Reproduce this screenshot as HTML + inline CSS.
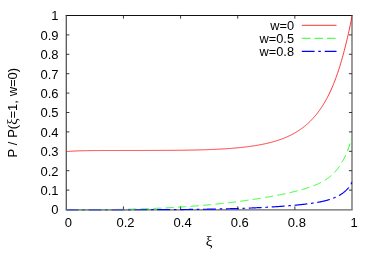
<!DOCTYPE html>
<html><head><meta charset="utf-8"><style>
html,body{margin:0;padding:0;background:#fff;}
svg{display:block;will-change:transform;opacity:0.999}
text{font-family:"Liberation Sans",sans-serif;font-size:13.5px;fill:#000}
</style></head><body>
<svg width="374" height="262" viewBox="0 0 374 262">
<defs><linearGradient id="fd" gradientUnits="userSpaceOnUse" x1="66" y1="0" x2="150" y2="0"><stop offset="0" stop-color="#8a8a8a" stop-opacity="0.55"/><stop offset="0.65" stop-color="#8a8a8a" stop-opacity="0.55"/><stop offset="1" stop-color="#8a8a8a" stop-opacity="0"/></linearGradient><clipPath id="c"><rect x="65.8" y="15.0" width="286.7" height="195.8"/></clipPath></defs>
<rect width="374" height="262" fill="#fff"/>
<g fill="none">
<path d="M65.7,15.5H352.6" stroke="#111" stroke-width="1"/>
<path d="M65.7,209.8H352.6" stroke="#666" stroke-width="1.3"/>
<path d="M66.3,15.5V209.8" stroke="#555" stroke-width="1.3"/>
<path d="M352.0,15.5V209.8" stroke="#666" stroke-width="1.3"/>
<g stroke="#222" stroke-width="0.9"><path d="M66.3,190.10h3.1"/><path d="M352.0,190.10h-3.1"/><path d="M66.3,170.70h3.1"/><path d="M352.0,170.70h-3.1"/><path d="M352.0,151.30h-3.1"/><path d="M66.3,131.90h3.1"/><path d="M352.0,131.90h-3.1"/><path d="M66.3,112.50h3.1"/><path d="M352.0,112.50h-3.1"/><path d="M66.3,93.10h3.1"/><path d="M352.0,93.10h-3.1"/><path d="M66.3,73.70h3.1"/><path d="M352.0,73.70h-3.1"/><path d="M66.3,54.30h3.1"/><path d="M352.0,54.30h-3.1"/><path d="M66.3,34.90h3.1"/><path d="M352.0,34.90h-3.1"/><path d="M123.44,209.8v-3.4M123.44,15.5v3.1"/><path d="M180.58,209.8v-3.4M180.58,15.5v3.1"/><path d="M237.72,209.8v-3.4M237.72,15.5v3.1"/><path d="M294.86,209.8v-3.4M294.86,15.5v3.1"/></g>
</g>
<text transform="translate(58.60,214.40) scale(0.9630,1)" text-anchor="end">0</text><text transform="translate(58.60,195.00) scale(0.9630,1)" text-anchor="end">0.1</text><text transform="translate(58.60,175.60) scale(0.9630,1)" text-anchor="end">0.2</text><text transform="translate(58.60,156.20) scale(0.9630,1)" text-anchor="end">0.3</text><text transform="translate(58.60,136.80) scale(0.9630,1)" text-anchor="end">0.4</text><text transform="translate(58.60,117.40) scale(0.9630,1)" text-anchor="end">0.5</text><text transform="translate(58.60,98.00) scale(0.9630,1)" text-anchor="end">0.6</text><text transform="translate(58.60,78.60) scale(0.9630,1)" text-anchor="end">0.7</text><text transform="translate(58.60,59.20) scale(0.9630,1)" text-anchor="end">0.8</text><text transform="translate(58.60,39.80) scale(0.9630,1)" text-anchor="end">0.9</text><text transform="translate(58.60,20.40) scale(0.9630,1)" text-anchor="end">1</text>
<text transform="translate(68.30,227.40) scale(0.9630,1)" text-anchor="middle">0</text><text transform="translate(125.44,227.40) scale(0.9630,1)" text-anchor="middle">0.2</text><text transform="translate(182.58,227.40) scale(0.9630,1)" text-anchor="middle">0.4</text><text transform="translate(239.72,227.40) scale(0.9630,1)" text-anchor="middle">0.6</text><text transform="translate(296.86,227.40) scale(0.9630,1)" text-anchor="middle">0.8</text><text transform="translate(354.00,227.40) scale(0.9630,1)" text-anchor="middle">1</text>
<text x="209" y="245.7" text-anchor="middle" style="font-family:'Liberation Serif',serif;font-size:15px">ξ</text>
<text transform="translate(17.3,112.6) rotate(-90)" text-anchor="middle" word-spacing="0.15" style="font-size:13px">P / P(<tspan style="font-family:'Liberation Serif',serif;font-size:14px">ξ</tspan>=1, w=0)</text>
<text transform="translate(294.00,29.50) scale(0.9485,1)" text-anchor="end">w=0</text>
<text transform="translate(294.00,42.50) scale(0.9485,1)" text-anchor="end">w=0.5</text>
<text transform="translate(294.00,55.50) scale(0.9485,1)" text-anchor="end">w=0.8</text>
<g fill="none">
<path d="M301.8,25.3H336.5" stroke="#ff0000" stroke-width="0.8"/>
<path d="M301.8,38.3H336.5" stroke="#00ff00" stroke-width="0.85" stroke-dasharray="8.6 4"/>
<path d="M301.8,51.3H336.5" stroke="#0000ff" stroke-width="1.2" stroke-dasharray="12.8 3.7 2.5 3.9"/>
<g clip-path="url(#c)">
<path d="M66.30,151.61 L66.78,151.56 L67.25,151.52 L67.73,151.47 L68.20,151.43 L68.68,151.40 L69.16,151.36 L69.63,151.32 L70.11,151.29 L70.59,151.25 L71.06,151.22 L71.54,151.19 L72.01,151.16 L72.49,151.14 L72.97,151.11 L73.44,151.08 L73.92,151.06 L74.39,151.04 L74.87,151.01 L75.35,150.99 L75.82,150.97 L76.30,150.95 L76.78,150.93 L77.25,150.91 L77.73,150.89 L78.20,150.88 L78.68,150.86 L79.16,150.85 L79.63,150.83 L80.11,150.82 L80.58,150.80 L81.06,150.79 L81.54,150.78 L82.01,150.77 L82.49,150.75 L82.97,150.74 L83.44,150.73 L83.92,150.72 L84.39,150.71 L84.87,150.70 L85.35,150.69 L85.82,150.68 L86.30,150.68 L86.78,150.67 L87.25,150.66 L87.73,150.65 L88.20,150.65 L88.68,150.64 L89.16,150.63 L89.63,150.63 L90.11,150.62 L90.58,150.61 L91.06,150.61 L91.54,150.60 L92.01,150.60 L92.49,150.59 L92.97,150.59 L93.44,150.58 L93.92,150.58 L94.39,150.58 L94.87,150.57 L95.35,150.57 L95.82,150.57 L96.30,150.56 L96.77,150.56 L97.25,150.56 L97.73,150.55 L98.20,150.55 L98.68,150.55 L99.16,150.54 L99.63,150.54 L100.11,150.54 L100.58,150.54 L101.06,150.53 L101.54,150.53 L102.01,150.53 L102.49,150.53 L102.96,150.53 L103.44,150.52 L103.92,150.52 L104.39,150.52 L104.87,150.52 L105.35,150.52 L105.82,150.52 L106.30,150.51 L106.77,150.51 L107.25,150.51 L107.73,150.51 L108.20,150.51 L108.68,150.51 L109.16,150.51 L109.63,150.50 L110.11,150.50 L110.58,150.50 L111.06,150.50 L111.54,150.50 L112.01,150.50 L112.49,150.50 L112.96,150.50 L113.44,150.50 L113.92,150.50 L114.39,150.50 L114.87,150.49 L115.35,150.49 L115.82,150.49 L116.30,150.49 L116.77,150.49 L117.25,150.49 L117.73,150.49 L118.20,150.49 L118.68,150.49 L119.15,150.49 L119.63,150.49 L120.11,150.49 L120.58,150.49 L121.06,150.49 L121.54,150.49 L122.01,150.49 L122.49,150.48 L122.96,150.48 L123.44,150.48 L123.92,150.48 L124.39,150.48 L124.87,150.48 L125.34,150.48 L125.82,150.48 L126.30,150.48 L126.77,150.48 L127.25,150.48 L127.73,150.48 L128.20,150.48 L128.68,150.48 L129.15,150.48 L129.63,150.48 L130.11,150.48 L130.58,150.48 L131.06,150.48 L131.53,150.48 L132.01,150.48 L132.49,150.47 L132.96,150.47 L133.44,150.47 L133.92,150.47 L134.39,150.47 L134.87,150.47 L135.34,150.47 L135.82,150.47 L136.30,150.47 L136.77,150.47 L137.25,150.47 L137.72,150.47 L138.20,150.47 L138.68,150.47 L139.15,150.47 L139.63,150.47 L140.11,150.46 L140.58,150.46 L141.06,150.46 L141.53,150.46 L142.01,150.46 L142.49,150.46 L142.96,150.46 L143.44,150.46 L143.92,150.46 L144.39,150.46 L144.87,150.46 L145.34,150.46 L145.82,150.45 L146.30,150.45 L146.77,150.45 L147.25,150.45 L147.72,150.45 L148.20,150.45 L148.68,150.45 L149.15,150.45 L149.63,150.45 L150.11,150.44 L150.58,150.44 L151.06,150.44 L151.53,150.44 L152.01,150.44 L152.49,150.44 L152.96,150.44 L153.44,150.43 L153.91,150.43 L154.39,150.43 L154.87,150.43 L155.34,150.43 L155.82,150.43 L156.30,150.42 L156.77,150.42 L157.25,150.42 L157.72,150.42 L158.20,150.42 L158.68,150.41 L159.15,150.41 L159.63,150.41 L160.10,150.41 L160.58,150.41 L161.06,150.40 L161.53,150.40 L162.01,150.40 L162.49,150.40 L162.96,150.39 L163.44,150.39 L163.91,150.39 L164.39,150.39 L164.87,150.38 L165.34,150.38 L165.82,150.38 L166.30,150.37 L166.77,150.37 L167.25,150.37 L167.72,150.36 L168.20,150.36 L168.68,150.36 L169.15,150.35 L169.63,150.35 L170.10,150.35 L170.58,150.34 L171.06,150.34 L171.53,150.34 L172.01,150.33 L172.49,150.33 L172.96,150.32 L173.44,150.32 L173.91,150.32 L174.39,150.31 L174.87,150.31 L175.34,150.30 L175.82,150.30 L176.29,150.29 L176.77,150.29 L177.25,150.28 L177.72,150.28 L178.20,150.27 L178.68,150.27 L179.15,150.26 L179.63,150.26 L180.10,150.25 L180.58,150.24 L181.06,150.24 L181.53,150.23 L182.01,150.23 L182.48,150.22 L182.96,150.21 L183.44,150.21 L183.91,150.20 L184.39,150.19 L184.87,150.19 L185.34,150.18 L185.82,150.17 L186.29,150.17 L186.77,150.16 L187.25,150.15 L187.72,150.14 L188.20,150.13 L188.67,150.13 L189.15,150.12 L189.63,150.11 L190.10,150.10 L190.58,150.09 L191.06,150.08 L191.53,150.07 L192.01,150.06 L192.48,150.06 L192.96,150.05 L193.44,150.04 L193.91,150.03 L194.39,150.02 L194.87,150.00 L195.34,149.99 L195.82,149.98 L196.29,149.97 L196.77,149.96 L197.25,149.95 L197.72,149.94 L198.20,149.93 L198.67,149.91 L199.15,149.90 L199.63,149.89 L200.10,149.88 L200.58,149.86 L201.06,149.85 L201.53,149.84 L202.01,149.82 L202.48,149.81 L202.96,149.80 L203.44,149.78 L203.91,149.77 L204.39,149.75 L204.86,149.74 L205.34,149.72 L205.82,149.70 L206.29,149.69 L206.77,149.67 L207.25,149.66 L207.72,149.64 L208.20,149.62 L208.67,149.60 L209.15,149.59 L209.63,149.57 L210.10,149.55 L210.58,149.53 L211.06,149.51 L211.53,149.49 L212.01,149.47 L212.49,149.45 L212.97,149.43 L213.44,149.41 L213.92,149.39 L214.40,149.37 L214.88,149.35 L215.36,149.33 L215.83,149.30 L216.31,149.28 L216.79,149.26 L217.27,149.24 L217.75,149.21 L218.23,149.19 L218.71,149.16 L219.19,149.14 L219.67,149.11 L220.15,149.09 L220.63,149.06 L221.11,149.03 L221.59,149.01 L222.07,148.98 L222.55,148.95 L223.03,148.92 L223.51,148.89 L223.99,148.86 L224.47,148.83 L224.95,148.80 L225.43,148.77 L225.91,148.74 L226.40,148.71 L226.88,148.68 L227.36,148.65 L227.84,148.61 L228.32,148.58 L228.80,148.54 L229.29,148.51 L229.77,148.47 L230.25,148.44 L230.73,148.40 L231.22,148.36 L231.70,148.33 L232.18,148.29 L232.66,148.25 L233.15,148.21 L233.63,148.17 L234.11,148.13 L234.60,148.09 L235.08,148.05 L235.56,148.00 L236.05,147.96 L236.53,147.92 L237.01,147.87 L237.50,147.83 L237.98,147.78 L238.46,147.74 L238.95,147.69 L239.43,147.64 L239.91,147.59 L240.40,147.54 L240.88,147.49 L241.37,147.44 L241.85,147.39 L242.33,147.34 L242.82,147.29 L243.30,147.23 L243.79,147.18 L244.27,147.12 L244.75,147.06 L245.24,147.01 L245.72,146.95 L246.21,146.89 L246.69,146.83 L247.18,146.77 L247.66,146.71 L248.14,146.65 L248.63,146.58 L249.11,146.52 L249.60,146.45 L250.08,146.39 L250.57,146.32 L251.05,146.25 L251.54,146.18 L252.02,146.11 L252.50,146.04 L252.99,145.97 L253.47,145.89 L253.96,145.82 L254.44,145.74 L254.93,145.67 L255.41,145.59 L255.90,145.51 L256.38,145.43 L256.87,145.35 L257.35,145.27 L257.83,145.18 L258.32,145.10 L258.80,145.01 L259.29,144.92 L259.77,144.84 L260.26,144.74 L260.74,144.65 L261.22,144.56 L261.71,144.47 L262.19,144.37 L262.68,144.27 L263.16,144.17 L263.64,144.07 L264.13,143.97 L264.61,143.87 L265.10,143.77 L265.58,143.66 L266.06,143.55 L266.55,143.44 L267.03,143.33 L267.51,143.22 L268.00,143.10 L268.48,142.99 L268.96,142.87 L269.45,142.75 L269.93,142.63 L270.41,142.51 L270.90,142.38 L271.38,142.25 L271.86,142.13 L272.35,141.99 L272.83,141.86 L273.31,141.73 L273.79,141.59 L274.28,141.45 L274.76,141.31 L275.24,141.17 L275.72,141.02 L276.21,140.87 L276.69,140.72 L277.17,140.57 L277.65,140.42 L278.13,140.26 L278.61,140.10 L279.10,139.94 L279.58,139.77 L280.06,139.61 L280.54,139.44 L281.02,139.27 L281.50,139.09 L281.98,138.91 L282.46,138.73 L282.94,138.55 L283.42,138.36 L283.90,138.18 L284.38,137.98 L284.86,137.79 L285.34,137.59 L285.82,137.39 L286.30,137.18 L286.78,136.98 L287.26,136.77 L287.74,136.55 L288.22,136.33 L288.70,136.11 L289.18,135.89 L289.65,135.66 L290.13,135.43 L290.61,135.19 L291.09,134.95 L291.57,134.71 L292.04,134.46 L292.52,134.21 L293.00,133.96 L293.48,133.70 L293.95,133.43 L294.43,133.17 L294.91,132.89 L295.38,132.62 L295.86,132.33 L296.34,132.05 L296.81,131.76 L297.29,131.46 L297.76,131.16 L298.24,130.86 L298.72,130.55 L299.19,130.23 L299.67,129.91 L300.15,129.58 L300.62,129.25 L301.10,128.91 L301.57,128.57 L302.05,128.22 L302.53,127.87 L303.00,127.50 L303.48,127.14 L303.95,126.76 L304.43,126.39 L304.91,126.00 L305.38,125.61 L305.86,125.21 L306.34,124.80 L306.81,124.39 L307.29,123.97 L307.76,123.54 L308.24,123.11 L308.72,122.66 L309.19,122.21 L309.67,121.76 L310.15,121.29 L310.62,120.82 L311.10,120.33 L311.57,119.84 L312.05,119.34 L312.53,118.84 L313.00,118.32 L313.48,117.79 L313.95,117.26 L314.43,116.71 L314.91,116.16 L315.38,115.60 L315.86,115.02 L316.34,114.44 L316.81,113.84 L317.29,113.24 L317.76,112.62 L318.24,112.00 L318.72,111.36 L319.19,110.71 L319.67,110.05 L320.14,109.38 L320.62,108.69 L321.10,107.99 L321.57,107.28 L322.05,106.56 L322.53,105.83 L323.00,105.08 L323.48,104.31 L323.95,103.54 L324.43,102.75 L324.91,101.94 L325.38,101.12 L325.85,100.29 L326.32,99.44 L326.80,98.57 L327.26,97.69 L327.73,96.80 L328.20,95.88 L328.67,94.95 L329.13,94.00 L329.60,93.04 L330.06,92.06 L330.52,91.06 L330.99,90.04 L331.45,89.00 L331.91,87.94 L332.37,86.87 L332.83,85.77 L333.29,84.65 L333.75,83.52 L334.20,82.36 L334.66,81.18 L335.12,79.98 L335.58,78.75 L336.03,77.51 L336.49,76.24 L336.95,74.94 L337.40,73.62 L337.86,72.28 L338.32,70.92 L338.77,69.52 L339.23,68.10 L339.68,66.66 L340.14,65.19 L340.60,63.69 L341.05,62.16 L341.51,60.60 L341.97,59.02 L342.43,57.40 L342.88,55.75 L343.34,54.08 L343.80,52.37 L344.26,50.63 L344.72,48.86 L345.18,47.05 L345.64,45.21 L346.11,43.34 L346.57,41.43 L347.03,39.48 L347.50,37.50 L347.96,35.48 L348.43,33.42 L348.90,31.32 L349.37,29.19 L349.83,27.01 L350.31,24.79 L350.78,22.54 L351.25,20.23 L351.72,17.89 L352.20,15.50" stroke="#ff0000" stroke-width="0.8"/>
<path d="M66.30,209.80 L66.78,209.80 L67.25,209.80 L67.73,209.80 L68.20,209.80 L68.68,209.80 L69.16,209.80 L69.63,209.80 L70.11,209.80 L70.59,209.80 L71.06,209.80 L71.54,209.80 L72.01,209.80 L72.49,209.80 L72.97,209.80 L73.44,209.80 L73.92,209.79 L74.39,209.79 L74.87,209.79 L75.35,209.79 L75.82,209.79 L76.30,209.79 L76.78,209.79 L77.25,209.79 L77.73,209.79 L78.20,209.79 L78.68,209.79 L79.16,209.78 L79.63,209.78 L80.11,209.78 L80.58,209.78 L81.06,209.78 L81.54,209.78 L82.01,209.78 L82.49,209.77 L82.97,209.77 L83.44,209.77 L83.92,209.77 L84.39,209.77 L84.87,209.77 L85.35,209.76 L85.82,209.76 L86.30,209.76 L86.78,209.76 L87.25,209.75 L87.73,209.75 L88.20,209.75 L88.68,209.75 L89.16,209.74 L89.63,209.74 L90.11,209.74 L90.58,209.74 L91.06,209.73 L91.54,209.73 L92.01,209.73 L92.49,209.73 L92.97,209.72 L93.44,209.72 L93.92,209.72 L94.39,209.71 L94.87,209.71 L95.35,209.70 L95.82,209.70 L96.30,209.70 L96.77,209.69 L97.25,209.69 L97.73,209.69 L98.20,209.68 L98.68,209.68 L99.16,209.67 L99.63,209.67 L100.11,209.66 L100.58,209.66 L101.06,209.66 L101.54,209.65 L102.01,209.65 L102.49,209.64 L102.96,209.64 L103.44,209.63 L103.92,209.63 L104.39,209.62 L104.87,209.62 L105.35,209.61 L105.82,209.60 L106.30,209.60 L106.77,209.59 L107.25,209.59 L107.73,209.58 L108.20,209.58 L108.68,209.57 L109.16,209.56 L109.63,209.56 L110.11,209.55 L110.58,209.54 L111.06,209.54 L111.54,209.53 L112.01,209.52 L112.49,209.52 L112.96,209.51 L113.44,209.50 L113.92,209.50 L114.39,209.49 L114.87,209.48 L115.35,209.47 L115.82,209.47 L116.30,209.46 L116.77,209.45 L117.25,209.44 L117.73,209.43 L118.20,209.42 L118.68,209.42 L119.15,209.41 L119.63,209.40 L120.11,209.39 L120.58,209.38 L121.06,209.37 L121.54,209.36 L122.01,209.35 L122.49,209.34 L122.96,209.34 L123.44,209.33 L123.92,209.32 L124.39,209.31 L124.87,209.30 L125.34,209.29 L125.82,209.28 L126.30,209.26 L126.77,209.25 L127.25,209.24 L127.73,209.23 L128.20,209.22 L128.68,209.21 L129.15,209.20 L129.63,209.19 L130.11,209.18 L130.58,209.16 L131.06,209.15 L131.53,209.14 L132.01,209.13 L132.49,209.12 L132.96,209.10 L133.44,209.09 L133.92,209.08 L134.39,209.07 L134.87,209.05 L135.34,209.04 L135.82,209.03 L136.30,209.01 L136.77,209.00 L137.25,208.99 L137.72,208.97 L138.20,208.96 L138.68,208.95 L139.15,208.93 L139.63,208.92 L140.11,208.90 L140.58,208.89 L141.06,208.87 L141.53,208.86 L142.01,208.84 L142.49,208.83 L142.96,208.81 L143.44,208.80 L143.92,208.78 L144.39,208.76 L144.87,208.75 L145.34,208.73 L145.82,208.72 L146.30,208.70 L146.77,208.68 L147.25,208.67 L147.72,208.65 L148.20,208.63 L148.68,208.61 L149.15,208.60 L149.63,208.58 L150.11,208.56 L150.58,208.54 L151.06,208.52 L151.53,208.51 L152.01,208.49 L152.49,208.47 L152.96,208.45 L153.44,208.43 L153.91,208.41 L154.39,208.39 L154.87,208.37 L155.34,208.35 L155.82,208.33 L156.30,208.31 L156.77,208.29 L157.25,208.27 L157.72,208.25 L158.20,208.23 L158.68,208.21 L159.15,208.19 L159.63,208.17 L160.10,208.14 L160.58,208.12 L161.06,208.10 L161.53,208.08 L162.01,208.06 L162.49,208.03 L162.96,208.01 L163.44,207.99 L163.91,207.97 L164.39,207.94 L164.87,207.92 L165.34,207.89 L165.82,207.87 L166.30,207.85 L166.77,207.82 L167.25,207.80 L167.72,207.77 L168.20,207.75 L168.68,207.72 L169.15,207.70 L169.63,207.67 L170.10,207.65 L170.58,207.62 L171.06,207.60 L171.53,207.57 L172.01,207.54 L172.49,207.52 L172.96,207.49 L173.44,207.46 L173.91,207.44 L174.39,207.41 L174.87,207.38 L175.34,207.35 L175.82,207.32 L176.29,207.30 L176.77,207.27 L177.25,207.24 L177.72,207.21 L178.20,207.18 L178.68,207.15 L179.15,207.12 L179.63,207.09 L180.10,207.06 L180.58,207.03 L181.06,207.00 L181.53,206.97 L182.01,206.94 L182.48,206.91 L182.96,206.88 L183.44,206.85 L183.91,206.81 L184.39,206.78 L184.87,206.75 L185.34,206.72 L185.82,206.68 L186.29,206.65 L186.77,206.62 L187.25,206.59 L187.72,206.55 L188.20,206.52 L188.67,206.48 L189.15,206.45 L189.63,206.42 L190.10,206.38 L190.58,206.35 L191.06,206.31 L191.53,206.28 L192.01,206.24 L192.48,206.20 L192.96,206.17 L193.44,206.13 L193.91,206.10 L194.39,206.06 L194.87,206.02 L195.34,205.98 L195.82,205.95 L196.29,205.91 L196.77,205.87 L197.25,205.83 L197.72,205.79 L198.20,205.76 L198.67,205.72 L199.15,205.68 L199.63,205.64 L200.10,205.60 L200.58,205.56 L201.06,205.52 L201.53,205.48 L202.01,205.44 L202.48,205.40 L202.96,205.35 L203.44,205.31 L203.91,205.27 L204.39,205.23 L204.86,205.19 L205.34,205.14 L205.82,205.10 L206.29,205.06 L206.77,205.02 L207.25,204.97 L207.72,204.93 L208.20,204.88 L208.67,204.84 L209.15,204.80 L209.63,204.75 L210.10,204.71 L210.58,204.66 L211.05,204.61 L211.53,204.57 L212.01,204.52 L212.48,204.48 L212.96,204.43 L213.44,204.38 L213.91,204.33 L214.39,204.29 L214.86,204.24 L215.34,204.19 L215.82,204.14 L216.29,204.09 L216.77,204.05 L217.24,204.00 L217.72,203.95 L218.20,203.90 L218.67,203.85 L219.15,203.80 L219.63,203.75 L220.10,203.70 L220.58,203.65 L221.05,203.59 L221.53,203.54 L222.01,203.49 L222.48,203.44 L222.96,203.39 L223.44,203.33 L223.91,203.28 L224.39,203.23 L224.86,203.17 L225.34,203.12 L225.82,203.06 L226.29,203.01 L226.77,202.96 L227.24,202.90 L227.72,202.84 L228.20,202.79 L228.67,202.73 L229.15,202.68 L229.63,202.62 L230.10,202.56 L230.58,202.51 L231.05,202.45 L231.53,202.39 L232.01,202.33 L232.48,202.27 L232.96,202.22 L233.43,202.16 L233.91,202.10 L234.39,202.04 L234.86,201.98 L235.34,201.92 L235.82,201.86 L236.29,201.80 L236.77,201.74 L237.24,201.67 L237.72,201.61 L238.20,201.55 L238.67,201.49 L239.15,201.43 L239.62,201.36 L240.10,201.30 L240.58,201.24 L241.05,201.17 L241.53,201.11 L242.01,201.04 L242.48,200.98 L242.96,200.91 L243.43,200.85 L243.91,200.78 L244.39,200.72 L244.86,200.65 L245.34,200.58 L245.81,200.52 L246.29,200.45 L246.77,200.38 L247.24,200.31 L247.72,200.24 L248.20,200.18 L248.67,200.11 L249.15,200.04 L249.62,199.97 L250.10,199.90 L250.58,199.83 L251.05,199.76 L251.53,199.68 L252.00,199.61 L252.48,199.54 L252.96,199.47 L253.43,199.40 L253.91,199.32 L254.39,199.25 L254.86,199.18 L255.34,199.10 L255.81,199.03 L256.29,198.95 L256.77,198.88 L257.24,198.80 L257.72,198.73 L258.20,198.65 L258.67,198.58 L259.15,198.50 L259.62,198.42 L260.10,198.34 L260.58,198.27 L261.05,198.19 L261.53,198.11 L262.00,198.03 L262.48,197.95 L262.96,197.87 L263.43,197.79 L263.91,197.71 L264.39,197.63 L264.86,197.55 L265.34,197.47 L265.81,197.38 L266.29,197.30 L266.77,197.22 L267.24,197.14 L267.72,197.05 L268.19,196.97 L268.67,196.88 L269.15,196.80 L269.62,196.71 L270.10,196.63 L270.58,196.54 L271.05,196.45 L271.53,196.37 L272.00,196.28 L272.48,196.19 L272.96,196.10 L273.43,196.02 L273.91,195.93 L274.38,195.84 L274.86,195.75 L275.34,195.66 L275.81,195.56 L276.29,195.47 L276.77,195.38 L277.24,195.29 L277.72,195.20 L278.19,195.10 L278.67,195.01 L279.15,194.91 L279.62,194.82 L280.10,194.72 L280.57,194.63 L281.05,194.53 L281.53,194.43 L282.00,194.34 L282.48,194.24 L282.96,194.14 L283.43,194.04 L283.91,193.94 L284.38,193.84 L284.86,193.74 L285.34,193.64 L285.81,193.53 L286.29,193.43 L286.77,193.33 L287.24,193.22 L287.72,193.12 L288.19,193.01 L288.67,192.91 L289.15,192.80 L289.62,192.69 L290.10,192.58 L290.57,192.47 L291.05,192.36 L291.53,192.25 L292.00,192.14 L292.48,192.03 L292.96,191.91 L293.43,191.80 L293.91,191.69 L294.38,191.57 L294.86,191.45 L295.34,191.34 L295.81,191.22 L296.29,191.10 L296.76,190.98 L297.24,190.85 L297.72,190.73 L298.19,190.61 L298.67,190.48 L299.15,190.36 L299.62,190.23 L300.10,190.10 L300.57,189.97 L301.05,189.84 L301.53,189.71 L302.00,189.57 L302.48,189.44 L302.95,189.30 L303.43,189.17 L303.91,189.03 L304.38,188.88 L304.86,188.74 L305.34,188.60 L305.81,188.45 L306.29,188.30 L306.76,188.15 L307.24,188.00 L307.72,187.85 L308.19,187.69 L308.67,187.54 L309.15,187.38 L309.62,187.21 L310.10,187.05 L310.57,186.88 L311.05,186.71 L311.53,186.54 L312.00,186.37 L312.48,186.19 L312.95,186.01 L313.43,185.83 L313.91,185.64 L314.38,185.45 L314.86,185.26 L315.34,185.07 L315.81,184.87 L316.29,184.67 L316.76,184.46 L317.24,184.25 L317.72,184.04 L318.19,183.82 L318.67,183.60 L319.14,183.37 L319.62,183.14 L320.10,182.91 L320.57,182.67 L321.05,182.42 L321.53,182.17 L322.00,181.91 L322.48,181.65 L322.95,181.38 L323.43,181.11 L323.91,180.83 L324.38,180.54 L324.86,180.25 L325.33,179.95 L325.81,179.65 L326.29,179.33 L326.76,179.01 L327.24,178.68 L327.72,178.34 L328.19,177.99 L328.67,177.64 L329.14,177.27 L329.62,176.90 L330.10,176.51 L330.57,176.12 L331.05,175.71 L331.52,175.29 L332.00,174.86 L332.48,174.42 L332.95,173.97 L333.43,173.50 L333.91,173.02 L334.38,172.53 L334.86,172.02 L335.33,171.50 L335.81,170.96 L336.29,170.41 L336.76,169.84 L337.24,169.25 L337.72,168.65 L338.19,168.02 L338.67,167.38 L339.14,166.72 L339.62,166.03 L340.10,165.33 L340.57,164.60 L341.05,163.85 L341.52,163.07 L342.00,162.27 L342.48,161.44 L342.95,160.59 L343.43,159.71 L343.91,158.80 L344.38,157.86 L344.86,156.88 L345.33,155.87 L345.81,154.83 L346.29,153.75 L346.76,152.63 L347.24,151.47 L347.71,150.27 L348.19,149.03 L348.67,147.73 L349.14,146.38 L349.62,144.98 L350.10,143.51 L350.57,141.98 L351.05,140.38 L351.52,138.70 L352.00,136.94" stroke="#00ff00" stroke-width="0.85" stroke-dasharray="8.2 4.3" stroke-dashoffset="0.66"/>
<path d="M66.30,209.80 L66.78,209.80 L67.25,209.80 L67.73,209.80 L68.20,209.80 L68.68,209.80 L69.16,209.80 L69.63,209.80 L70.11,209.80 L70.59,209.80 L71.06,209.80 L71.54,209.80 L72.01,209.80 L72.49,209.80 L72.97,209.80 L73.44,209.80 L73.92,209.80 L74.39,209.80 L74.87,209.80 L75.35,209.80 L75.82,209.80 L76.30,209.80 L76.78,209.80 L77.25,209.80 L77.73,209.80 L78.20,209.80 L78.68,209.80 L79.16,209.80 L79.63,209.80 L80.11,209.80 L80.58,209.80 L81.06,209.80 L81.54,209.80 L82.01,209.80 L82.49,209.80 L82.97,209.80 L83.44,209.80 L83.92,209.80 L84.39,209.80 L84.87,209.80 L85.35,209.80 L85.82,209.80 L86.30,209.80 L86.78,209.80 L87.25,209.80 L87.73,209.80 L88.20,209.80 L88.68,209.80 L89.16,209.80 L89.63,209.80 L90.11,209.80 L90.58,209.80 L91.06,209.80 L91.54,209.80 L92.01,209.80 L92.49,209.80 L92.97,209.80 L93.44,209.80 L93.92,209.80 L94.39,209.80 L94.87,209.80 L95.35,209.80 L95.82,209.80 L96.30,209.80 L96.77,209.80 L97.25,209.80 L97.73,209.80 L98.20,209.80 L98.68,209.80 L99.16,209.80 L99.63,209.80 L100.11,209.80 L100.58,209.80 L101.06,209.80 L101.54,209.80 L102.01,209.80 L102.49,209.80 L102.96,209.80 L103.44,209.80 L103.92,209.80 L104.39,209.80 L104.87,209.80 L105.35,209.80 L105.82,209.80 L106.30,209.80 L106.77,209.80 L107.25,209.80 L107.73,209.80 L108.20,209.80 L108.68,209.80 L109.16,209.80 L109.63,209.80 L110.11,209.79 L110.58,209.79 L111.06,209.79 L111.54,209.79 L112.01,209.79 L112.49,209.79 L112.96,209.79 L113.44,209.79 L113.92,209.79 L114.39,209.79 L114.87,209.79 L115.35,209.79 L115.82,209.79 L116.30,209.79 L116.77,209.79 L117.25,209.79 L117.73,209.79 L118.20,209.79 L118.68,209.79 L119.15,209.79 L119.63,209.79 L120.11,209.79 L120.58,209.79 L121.06,209.79 L121.54,209.79 L122.01,209.79 L122.49,209.79 L122.96,209.79 L123.44,209.79 L123.92,209.78 L124.39,209.78 L124.87,209.78 L125.34,209.78 L125.82,209.78 L126.30,209.78 L126.77,209.78 L127.25,209.78 L127.73,209.78 L128.20,209.78 L128.68,209.78 L129.15,209.78 L129.63,209.78 L130.11,209.78 L130.58,209.78 L131.06,209.78 L131.53,209.78 L132.01,209.77 L132.49,209.77 L132.96,209.77 L133.44,209.77 L133.92,209.77 L134.39,209.77 L134.87,209.77 L135.34,209.77 L135.82,209.77 L136.30,209.77 L136.77,209.77 L137.25,209.76 L137.72,209.76 L138.20,209.76 L138.68,209.76 L139.15,209.76 L139.63,209.76 L140.11,209.76 L140.58,209.76 L141.06,209.76 L141.53,209.76 L142.01,209.75 L142.49,209.75 L142.96,209.75 L143.44,209.75 L143.92,209.75 L144.39,209.75 L144.87,209.75 L145.34,209.75 L145.82,209.74 L146.30,209.74 L146.77,209.74 L147.25,209.74 L147.72,209.74 L148.20,209.74 L148.68,209.74 L149.15,209.73 L149.63,209.73 L150.11,209.73 L150.58,209.73 L151.06,209.73 L151.53,209.73 L152.01,209.72 L152.49,209.72 L152.96,209.72 L153.44,209.72 L153.91,209.72 L154.39,209.72 L154.87,209.71 L155.34,209.71 L155.82,209.71 L156.30,209.71 L156.77,209.71 L157.25,209.70 L157.72,209.70 L158.20,209.70 L158.68,209.70 L159.15,209.70 L159.63,209.69 L160.10,209.69 L160.58,209.69 L161.06,209.69 L161.53,209.68 L162.01,209.68 L162.49,209.68 L162.96,209.68 L163.44,209.67 L163.91,209.67 L164.39,209.67 L164.87,209.67 L165.34,209.66 L165.82,209.66 L166.30,209.66 L166.77,209.66 L167.25,209.65 L167.72,209.65 L168.20,209.65 L168.68,209.64 L169.15,209.64 L169.63,209.64 L170.10,209.64 L170.58,209.63 L171.06,209.63 L171.53,209.63 L172.01,209.62 L172.49,209.62 L172.96,209.62 L173.44,209.61 L173.91,209.61 L174.39,209.61 L174.87,209.60 L175.34,209.60 L175.82,209.60 L176.29,209.59 L176.77,209.59 L177.25,209.58 L177.72,209.58 L178.20,209.58 L178.68,209.57 L179.15,209.57 L179.63,209.56 L180.10,209.56 L180.58,209.56 L181.06,209.55 L181.53,209.55 L182.01,209.54 L182.48,209.54 L182.96,209.53 L183.44,209.53 L183.91,209.53 L184.39,209.52 L184.87,209.52 L185.34,209.51 L185.82,209.51 L186.29,209.50 L186.77,209.50 L187.25,209.49 L187.72,209.49 L188.20,209.48 L188.67,209.48 L189.15,209.47 L189.63,209.47 L190.10,209.46 L190.58,209.46 L191.06,209.45 L191.53,209.44 L192.01,209.44 L192.48,209.43 L192.96,209.43 L193.44,209.42 L193.91,209.42 L194.39,209.41 L194.87,209.40 L195.34,209.40 L195.82,209.39 L196.29,209.39 L196.77,209.38 L197.25,209.37 L197.72,209.37 L198.20,209.36 L198.67,209.35 L199.15,209.35 L199.63,209.34 L200.10,209.33 L200.58,209.33 L201.06,209.32 L201.53,209.31 L202.01,209.30 L202.48,209.30 L202.96,209.29 L203.44,209.28 L203.91,209.28 L204.39,209.27 L204.86,209.26 L205.34,209.25 L205.82,209.24 L206.29,209.24 L206.77,209.23 L207.25,209.22 L207.72,209.21 L208.20,209.20 L208.67,209.20 L209.15,209.19 L209.63,209.18 L210.10,209.17 L210.58,209.16 L211.05,209.15 L211.53,209.14 L212.01,209.13 L212.48,209.13 L212.96,209.12 L213.44,209.11 L213.91,209.10 L214.39,209.09 L214.86,209.08 L215.34,209.07 L215.82,209.06 L216.29,209.05 L216.77,209.04 L217.24,209.03 L217.72,209.02 L218.20,209.01 L218.67,209.00 L219.15,208.99 L219.63,208.98 L220.10,208.97 L220.58,208.96 L221.05,208.94 L221.53,208.93 L222.01,208.92 L222.48,208.91 L222.96,208.90 L223.44,208.89 L223.91,208.88 L224.39,208.86 L224.86,208.85 L225.34,208.84 L225.82,208.83 L226.29,208.82 L226.77,208.80 L227.24,208.79 L227.72,208.78 L228.20,208.77 L228.67,208.75 L229.15,208.74 L229.63,208.73 L230.10,208.71 L230.58,208.70 L231.05,208.69 L231.53,208.67 L232.01,208.66 L232.48,208.65 L232.96,208.63 L233.43,208.62 L233.91,208.60 L234.39,208.59 L234.86,208.58 L235.34,208.56 L235.82,208.55 L236.29,208.53 L236.77,208.52 L237.24,208.50 L237.72,208.49 L238.20,208.47 L238.67,208.45 L239.15,208.44 L239.62,208.42 L240.10,208.41 L240.58,208.39 L241.05,208.37 L241.53,208.36 L242.01,208.34 L242.48,208.32 L242.96,208.31 L243.43,208.29 L243.91,208.27 L244.39,208.26 L244.86,208.24 L245.34,208.22 L245.81,208.20 L246.29,208.18 L246.77,208.17 L247.24,208.15 L247.72,208.13 L248.20,208.11 L248.67,208.09 L249.15,208.07 L249.62,208.05 L250.10,208.03 L250.58,208.01 L251.05,208.00 L251.53,207.98 L252.00,207.96 L252.48,207.94 L252.96,207.91 L253.43,207.89 L253.91,207.87 L254.39,207.85 L254.86,207.83 L255.34,207.81 L255.81,207.79 L256.29,207.77 L256.77,207.75 L257.24,207.72 L257.72,207.70 L258.20,207.68 L258.67,207.66 L259.15,207.63 L259.62,207.61 L260.10,207.59 L260.58,207.56 L261.05,207.54 L261.53,207.52 L262.00,207.49 L262.48,207.47 L262.96,207.44 L263.43,207.42 L263.91,207.39 L264.39,207.37 L264.86,207.34 L265.34,207.32 L265.81,207.29 L266.29,207.27 L266.77,207.24 L267.24,207.21 L267.72,207.19 L268.19,207.16 L268.67,207.13 L269.15,207.11 L269.62,207.08 L270.10,207.05 L270.58,207.02 L271.05,207.00 L271.53,206.97 L272.00,206.94 L272.48,206.91 L272.96,206.88 L273.43,206.85 L273.91,206.82 L274.38,206.79 L274.86,206.76 L275.34,206.73 L275.81,206.70 L276.29,206.67 L276.77,206.64 L277.24,206.61 L277.72,206.58 L278.19,206.55 L278.67,206.51 L279.15,206.48 L279.62,206.45 L280.10,206.41 L280.57,206.38 L281.05,206.35 L281.53,206.31 L282.00,206.28 L282.48,206.25 L282.96,206.21 L283.43,206.18 L283.91,206.14 L284.38,206.10 L284.86,206.07 L285.34,206.03 L285.81,206.00 L286.29,205.96 L286.77,205.92 L287.24,205.88 L287.72,205.85 L288.19,205.81 L288.67,205.77 L289.15,205.73 L289.62,205.69 L290.10,205.65 L290.57,205.61 L291.05,205.57 L291.53,205.53 L292.00,205.49 L292.48,205.45 L292.96,205.40 L293.43,205.36 L293.91,205.32 L294.38,205.28 L294.86,205.23 L295.34,205.19 L295.81,205.14 L296.29,205.10 L296.76,205.05 L297.24,205.01 L297.72,204.96 L298.19,204.91 L298.67,204.86 L299.15,204.82 L299.62,204.77 L300.10,204.72 L300.57,204.67 L301.05,204.62 L301.53,204.57 L302.00,204.51 L302.48,204.46 L302.95,204.41 L303.43,204.36 L303.91,204.30 L304.38,204.25 L304.86,204.19 L305.34,204.13 L305.81,204.08 L306.29,204.02 L306.76,203.96 L307.24,203.90 L307.72,203.84 L308.19,203.78 L308.67,203.72 L309.15,203.66 L309.62,203.59 L310.10,203.53 L310.57,203.46 L311.05,203.39 L311.53,203.33 L312.00,203.26 L312.48,203.19 L312.95,203.12 L313.43,203.04 L313.91,202.97 L314.38,202.90 L314.86,202.82 L315.34,202.74 L315.81,202.66 L316.29,202.58 L316.76,202.50 L317.24,202.42 L317.72,202.33 L318.19,202.25 L318.67,202.16 L319.14,202.07 L319.62,201.97 L320.10,201.88 L320.57,201.79 L321.05,201.69 L321.53,201.59 L322.00,201.49 L322.48,201.38 L322.95,201.28 L323.43,201.17 L323.91,201.05 L324.38,200.94 L324.86,200.82 L325.33,200.71 L325.81,200.58 L326.29,200.46 L326.76,200.33 L327.24,200.20 L327.72,200.06 L328.19,199.93 L328.67,199.78 L329.14,199.64 L329.62,199.49 L330.10,199.34 L330.57,199.18 L331.05,199.02 L331.52,198.85 L332.00,198.68 L332.48,198.51 L332.95,198.32 L333.43,198.14 L333.91,197.95 L334.38,197.75 L334.86,197.55 L335.33,197.34 L335.81,197.13 L336.29,196.91 L336.76,196.68 L337.24,196.45 L337.72,196.21 L338.19,195.96 L338.67,195.70 L339.14,195.43 L339.62,195.16 L340.10,194.88 L340.57,194.59 L341.05,194.29 L341.52,193.97 L342.00,193.65 L342.48,193.32 L342.95,192.97 L343.43,192.62 L343.91,192.24 L344.38,191.86 L344.86,191.46 L345.33,191.04 L345.81,190.61 L346.29,190.16 L346.76,189.68 L347.24,189.19 L347.71,188.66 L348.19,188.11 L348.67,187.53 L349.14,186.92 L349.62,186.26 L350.10,185.56 L350.57,184.80 L351.05,183.98 L351.52,183.09 L352.00,182.11" stroke="#0000ff" stroke-width="1.2" stroke-dasharray="12.9 3.7 2.6 3.7" stroke-dashoffset="0.67"/>
</g>
<path d="M65.7,209.8H150" stroke="url(#fd)" stroke-width="1.4"/>
</g>
</svg>
</body></html>
